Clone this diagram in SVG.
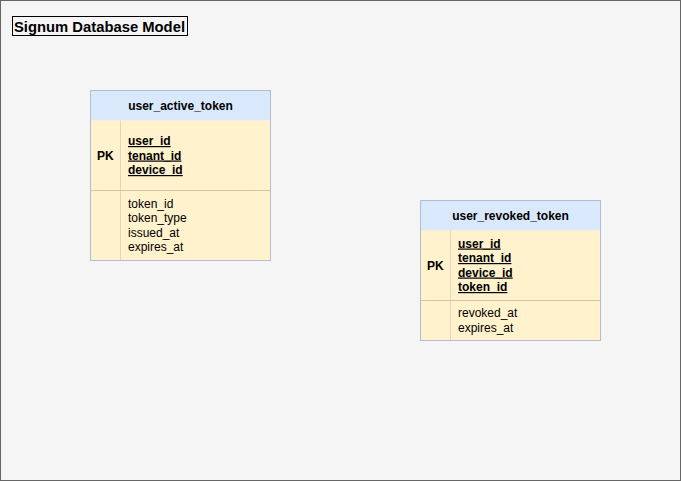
<svg xmlns="http://www.w3.org/2000/svg" width="681" height="481" viewBox="0 0 681 481">
<style>
text{font-family:"Liberation Sans",Arial,sans-serif;font-size:12px;fill:#000}
.b{font-weight:bold}
.u{font-weight:bold;text-decoration:underline}
.hdr{fill:#dae8fc;stroke:none}
.body{fill:#fff2cc;stroke:none}
.sep{stroke:#d7c5a0;stroke-width:1}
.col{stroke:#e2d6bd;stroke-width:1}
.out{fill:none;stroke:#b0bdd3;stroke-width:1}
</style>
<rect x="0.5" y="0.5" width="680" height="480" fill="#f5f5f5" stroke="#666666"/>
<g id="title">
<rect x="12.5" y="16.5" width="175" height="19" fill="none" stroke="#000"/>
<text x="14" y="31.5" class="b" style="font-size:15px" textLength="171" lengthAdjust="spacingAndGlyphs">Signum Database Model</text>
</g>
<g id="user_active_token">
<rect x="90.5" y="90.5" width="180" height="30" class="hdr"/>
<rect x="90.5" y="120.5" width="180" height="140" class="body"/>
<line x1="120.5" y1="120.5" x2="120.5" y2="260.5" class="col"/>
<line x1="90.5" y1="190.5" x2="270.5" y2="190.5" class="sep"/>
<rect x="90.5" y="90.5" width="180" height="170" class="out"/>
<text x="180.5" y="109.5" class="b" text-anchor="middle">user_active_token</text>
<text x="97" y="159.5" class="b">PK</text>
<text x="128" y="145" class="u">user_id</text>
<text x="128" y="159.5" class="u">tenant_id</text>
<text x="128" y="174" class="u">device_id</text>
<text x="128" y="207.5">token_id</text>
<text x="128" y="222">token_type</text>
<text x="128" y="236.5">issued_at</text>
<text x="128" y="251">expires_at</text>
</g>
<g id="user_revoked_token">
<rect x="420.5" y="200.5" width="180" height="30" class="hdr"/>
<rect x="420.5" y="230.5" width="180" height="110" class="body"/>
<line x1="450.5" y1="230.5" x2="450.5" y2="340.5" class="col"/>
<line x1="420.5" y1="300.5" x2="600.5" y2="300.5" class="sep"/>
<rect x="420.5" y="200.5" width="180" height="140" class="out"/>
<text x="510.5" y="219.5" class="b" text-anchor="middle">user_revoked_token</text>
<text x="427" y="269.5" class="b">PK</text>
<text x="458" y="247.5" class="u">user_id</text>
<text x="458" y="262" class="u">tenant_id</text>
<text x="458" y="276.5" class="u">device_id</text>
<text x="458" y="291" class="u">token_id</text>
<text x="458" y="317">revoked_at</text>
<text x="458" y="331.5">expires_at</text>
</g>
<g id="connectors"></g>
</svg>
